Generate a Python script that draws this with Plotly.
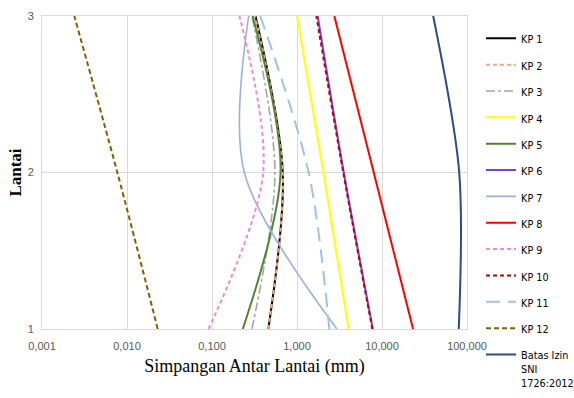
import plotly.graph_objects as go

lantai = [1, 2, 3]
kp1 = [0.46, 0.68, 0.325]
kp2 = [0.46, 0.68, 0.32]
kp3 = [0.295, 0.55, 0.295]
kp4 = [4.05, 2.05, 1.0]
kp5 = [0.23, 0.64, 0.30]
kp6 = [7.8, 3.55, 1.75]
kp7 = [2.95, 0.24, 0.27]
kp8 = [23.2, 8.0, 2.75]
kp9 = [0.091, 0.40, 0.21]
kp10 = [7.7, 3.5, 1.69]
kp11 = [2.4, 1.37, 0.37]
kp12 = [0.023, 0.0077, 0.0024]
batas = [80, 81, 40]

names = ["KP 1", "KP 2", "KP 3", "KP 4", "KP 5", "KP 6", "KP 7", "KP 8",
         "KP 9", "KP 10", "KP 11", "KP 12", "Batas Izin<br>SNI<br>1726:2012"]
series = [kp1, kp2, kp3, kp4, kp5, kp6, kp7, kp8, kp9, kp10, kp11, kp12, batas]
colors = ["#000000", "#F4A582", "#A5A5A5", "#FFFF00", "#548235", "#7040E0",
          "#9DB0D8", "#FF0000", "#F28AD2", "#C00000", "#9DC3E6", "#7F6000", "#2F4A8A"]
dashes = ["solid", "4px,3px", "dashdot", "solid", "solid", "solid", "solid", "solid",
          "4px,3px", "4px,3px", "14px,8px", "5px,3px", "solid"]
widths = [2, 2, 1.6, 2, 2, 2, 1.6, 2, 2, 2, 2, 2, 2]

tick_vals = [0.001, 0.01, 0.1, 1, 10, 100]
tick_text = ["0,001", "0,010", "0,100", "1,000", "10,000", "100,000"]

fig = go.Figure()
for n, s, c, d, w in zip(names, series, colors, dashes, widths):
    fig.add_trace(go.Scatter(
        x=s, y=lantai, mode="lines", name=n, legendgroup=n,
        line=dict(color=c, dash=d, width=w, shape="spline", smoothing=0.9),
    ))

fig.update_layout(
    width=574, height=398,
    margin=dict(l=42, r=107, t=16, b=69, autoexpand=False),
    paper_bgcolor="white", plot_bgcolor="white",
    font=dict(family="Liberation Sans, Arial, sans-serif", color="#595959", size=11),
    legend=dict(
        x=1.033, xanchor="left", y=0.972, yanchor="top",
        traceorder="grouped", tracegroupgap=7.35, valign="top",
        maxheight=420,
        font=dict(family="DejaVu Sans Condensed, Liberation Sans Narrow, Liberation Sans, sans-serif",
                  size=10.8, color="#000000"),
        bgcolor="rgba(0,0,0,0)",
    ),
)
fig.update_xaxes(
    type="log", range=[-3, 2], tickvals=tick_vals, ticktext=tick_text,
    showgrid=True, gridcolor="#D9D9D9", gridwidth=1,
    showline=True, linecolor="#D9D9D9", mirror=True, zeroline=False,
    ticks="outside", ticklen=7, tickcolor="rgba(0,0,0,0)",
    tickfont=dict(size=11, color="#595959"),
    title=dict(text="Simpangan Antar Lantai (mm)",
               font=dict(family="Liberation Serif, Times New Roman, serif", size=18, color="#000000"),
               standoff=8),
)
fig.update_yaxes(
    range=[1, 3], tickvals=[1, 2, 3], ticktext=["1", "2", "3"],
    showgrid=True, gridcolor="#D9D9D9", gridwidth=1,
    showline=True, linecolor="#D9D9D9", mirror=True, zeroline=False,
    ticks="outside", ticklen=5, tickcolor="rgba(0,0,0,0)",
    tickfont=dict(size=11, color="#595959"),
    title=dict(text="<b>Lantai</b>",
               font=dict(family="Liberation Serif, Times New Roman, serif", size=17, color="#000000"),
               standoff=1),
)

fig.write_html("out.html")
